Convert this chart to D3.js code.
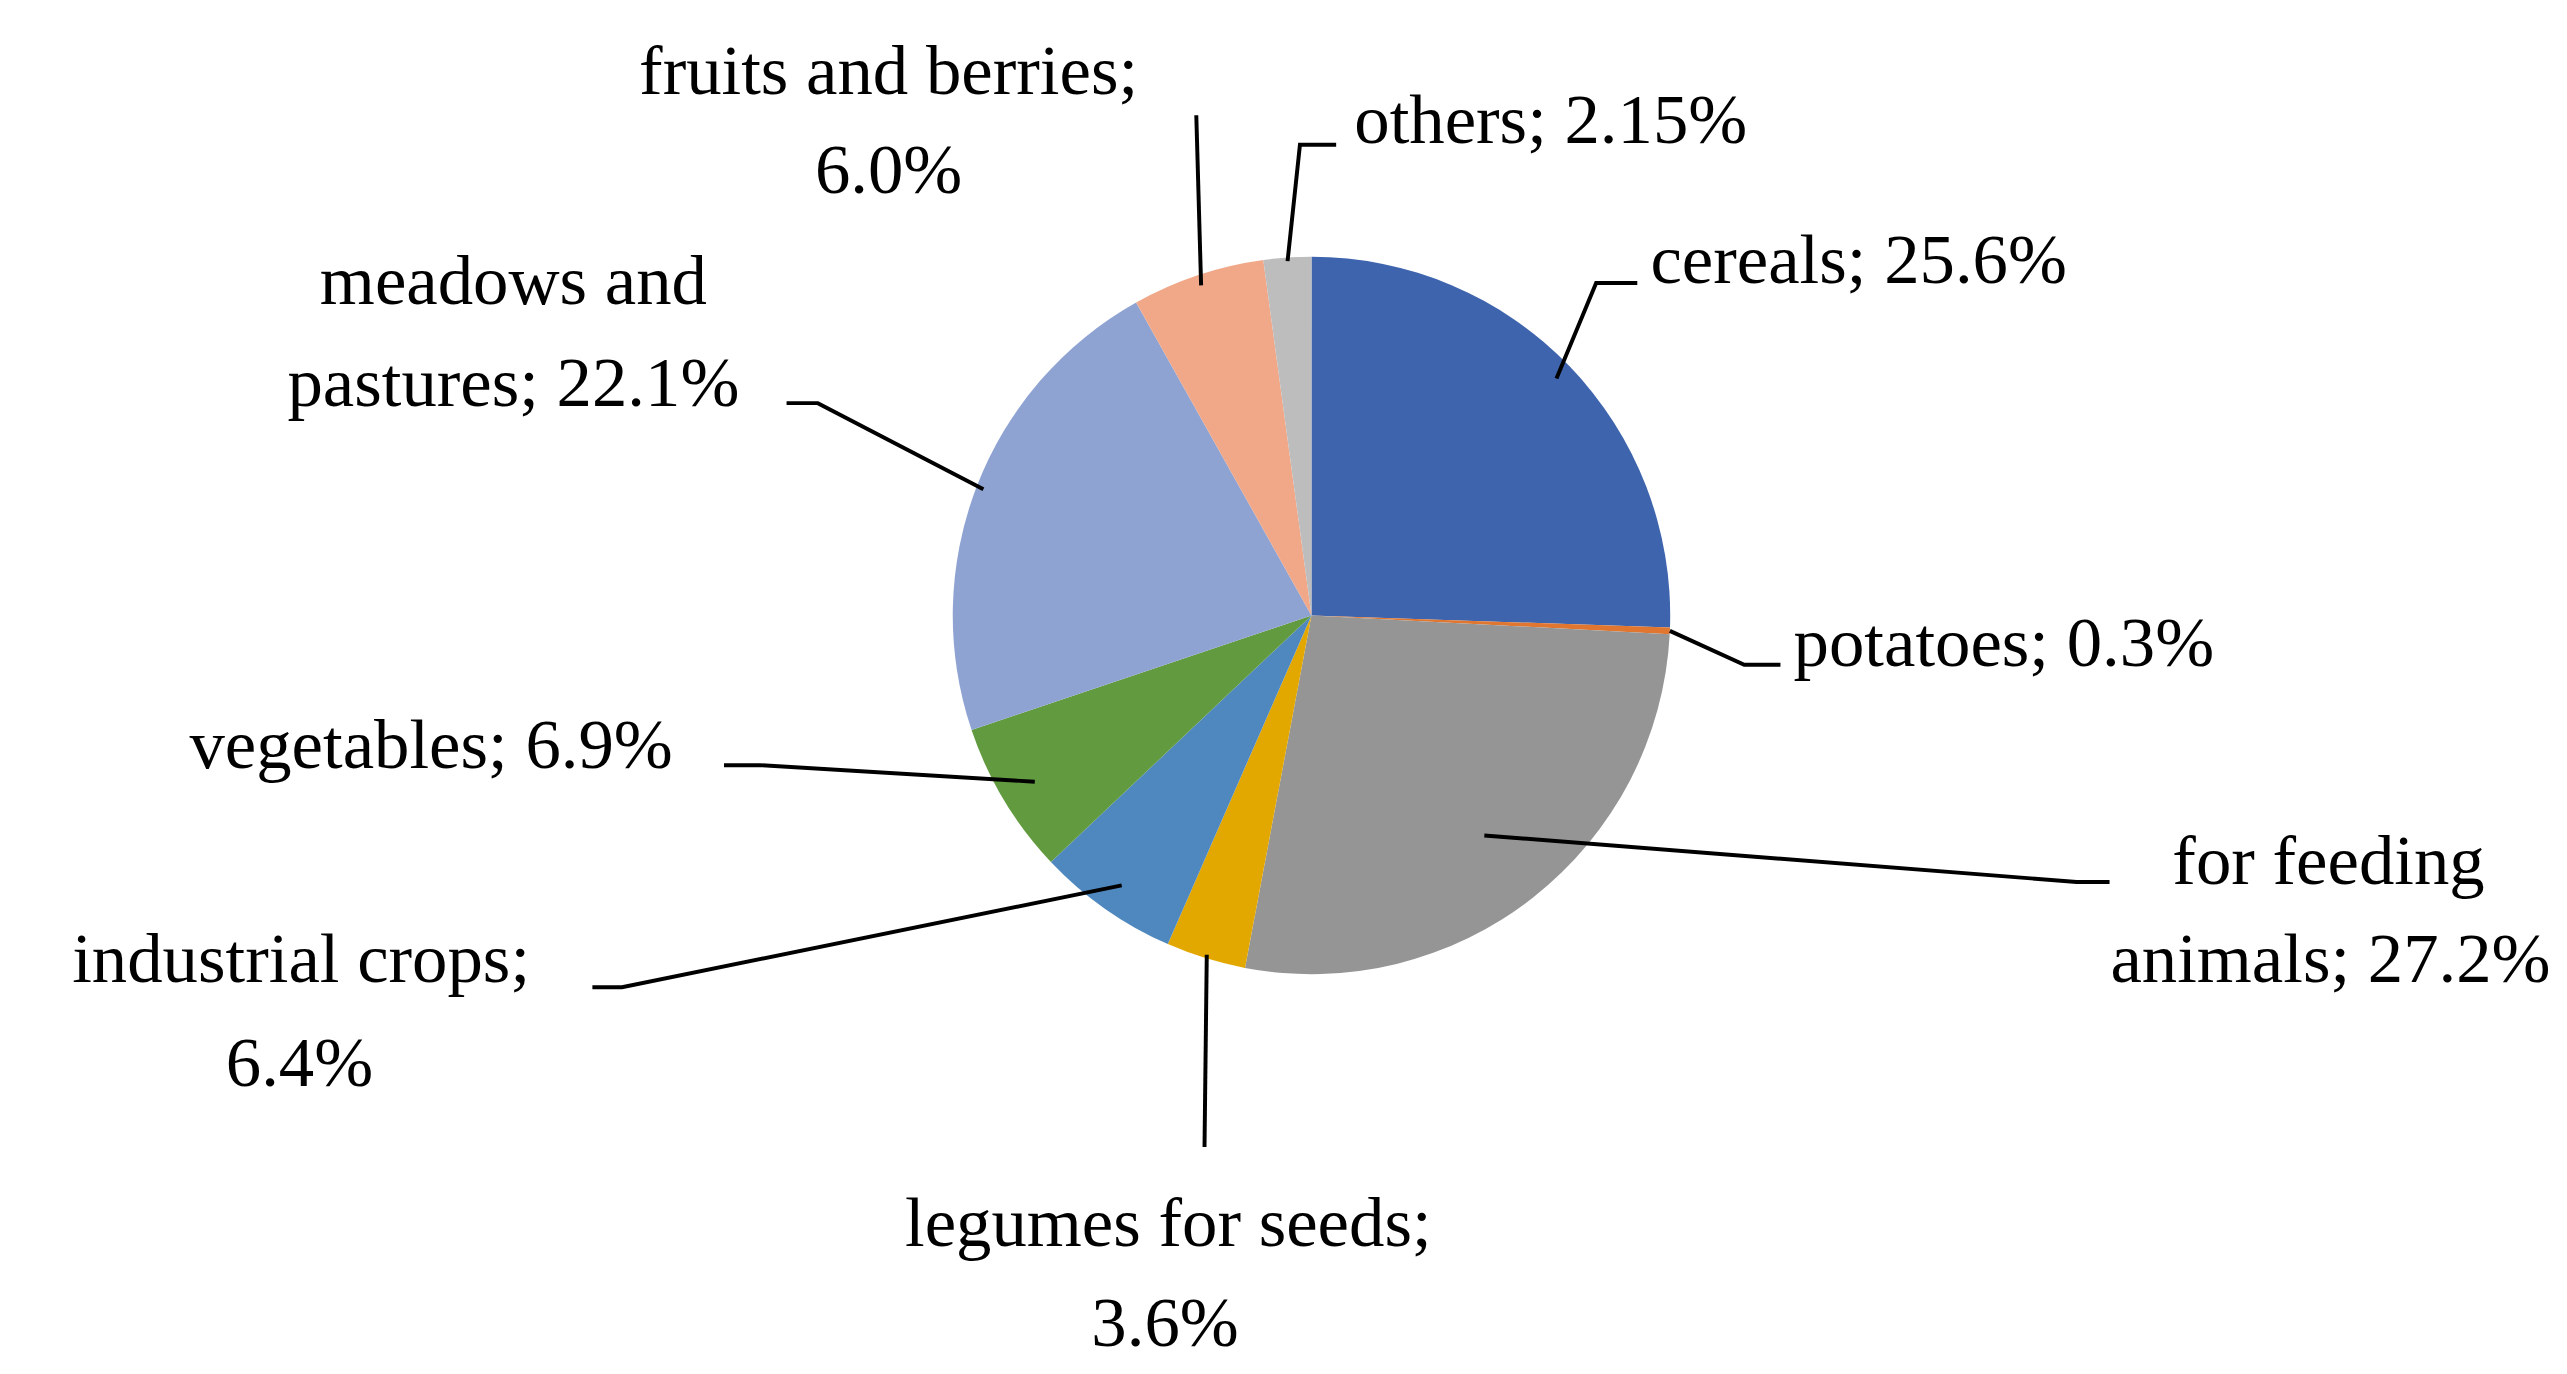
<!DOCTYPE html>
<html><head><meta charset="utf-8">
<script src="https://cdn.jsdelivr.net/npm/d3@7"></script>
<style>html,body{margin:0;padding:0;background:#fff;}</style>
</head><body>
<svg id="c" width="2567" height="1374" viewBox="0 0 1560 835"></svg>
<script>
const categories = ["cereals","potatoes","for feeding animals","legumes for seeds","industrial crops","vegetables","meadows and pastures","fruits and berries","others"];
const values = [25.6,0.3,27.2,3.6,6.4,6.9,22.1,6.0,2.15];
const valueLabels = ["25.6%","0.3%","27.2%","3.6%","6.4%","6.9%","22.1%","6.0%","2.15%"];
const colors = ["#3d64ad","#e0762f","#959595","#e2a800","#4f88bf","#629a3f","#8fa3d3","#f0a888","#bdbdbd"];

// label layout (display units): text lines, anchor, leader elbow & end
const layout = [
  {lines:[["cereals; 25.6%",1003,172]],anchor:"start",elbow:[970,172],end:[995,172],r:0.95},
  {lines:[["potatoes; 0.3%",1090,405]],anchor:"start",elbow:[1060,404],end:[1082,404],r:1.0},
  {lines:[["for feeding",1510,537],["animals; 27.2%",1550,597]],anchor:"end",elbow:[1262,536],end:[1282,536],r:0.78},
  {lines:[["legumes for seeds;",710,757],["3.6%",708,818]],anchor:"middle",elbow:[732,697],end:[732,697],r:0.99},
  {lines:[["industrial crops;",183,597],["6.4%",182,660]],anchor:"middle",elbow:[378,600],end:[360,600],r:0.92},
  {lines:[["vegetables; 6.9%",262,467]],anchor:"middle",elbow:[462,465],end:[440,465],r:0.9},
  {lines:[["meadows and",312,185],["pastures; 22.1%",312,247]],anchor:"middle",elbow:[497,245],end:[478,245],r:0.98},
  {lines:[["fruits and berries;",540,57],["6.0%",540,117]],anchor:"middle",elbow:[727,70],end:[727,70],r:0.97},
  {lines:[["others; 2.15%",823,87]],anchor:"start",elbow:[790,88],end:[812,88],r:0.99}
];

const svg = d3.select("#c");
const cx = 797, cy = 374, R = 218;
const g = svg.append("g").attr("transform",`translate(${cx},${cy})`);
const pie = d3.pie().sort(null).value(d=>d)(values);
const arc = d3.arc().innerRadius(0).outerRadius(R);
g.selectAll("path").data(pie).join("path").attr("d",arc).attr("fill",(d,i)=>colors[i]);

pie.forEach((d,i)=>{
  const L = layout[i];
  const a = (d.startAngle+d.endAngle)/2;
  const rr = R*L.r;
  const sx = cx + rr*Math.sin(a), sy = cy - rr*Math.cos(a);
  svg.append("polyline")
    .attr("points",[[sx,sy],L.elbow,L.end].map(p=>p.join(",")).join(" "))
    .attr("fill","none").attr("stroke","#000").attr("stroke-width",2.4);
  L.lines.forEach(([t,x,y])=>{
    svg.append("text").attr("x",x).attr("y",y).attr("text-anchor",L.anchor)
      .attr("font-family","'Liberation Serif','DejaVu Serif',serif")
      .attr("font-size",43).attr("fill","#000").text(t);
  });
});
</script>
</body></html>
